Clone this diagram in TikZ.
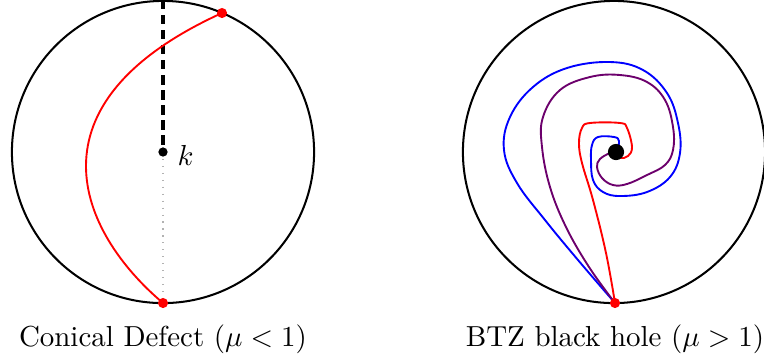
\documentclass[tikz,border=0pt]{standalone}
\begin{document}
\begin{tikzpicture}[x=0.3455pt,y=-0.3455pt,
  bdry/.style={line width=0.7pt},
  geo/.style={line width=0.65pt, line join=round, line cap=round},
  reddot/.style={circle, fill=red, inner sep=0pt, minimum size=3.5pt},
  blackdot/.style={circle, fill=black, inner sep=0pt, minimum size=3.2pt},
  hole/.style={circle, fill=black, inner sep=0pt, minimum size=5.6pt},
  caption/.style={font=\normalsize}]
\useasboundingbox (0,0) rectangle (764,362);
% ---------- left: conical defect ----------
\coordinate (cL) at (163,152);
\draw[bdry] (cL) circle (52.2pt);
\coordinate (topL) at (163,0);
\coordinate (botL) at (163,303);
\coordinate (redtop) at (222,13);
\draw[gray!60, dotted, line width=0.4pt] (cL) -- (botL);
\draw[line width=1.1pt, dash pattern=on 3.2pt off 2pt] (topL) -- (cL);
\draw[red, geo] (redtop) .. controls (22,104) and (79,232) .. (botL);
\node[blackdot] (k) at (cL) {};
\node[anchor=west, inner sep=0pt] (klab) at (177,155) {$k$};
\node[reddot] (rt) at (redtop) {};
\node[reddot] (rb) at (botL) {};
\node[caption] (capL) at (163,339) {Conical Defect ($\mu<1$)};
% ---------- right: BTZ ----------
\coordinate (cR) at (614,152);
\draw[bdry] (cR) circle (52.2pt);
\coordinate (botR) at (615,303);
\draw[blue, geo] plot[smooth, tension=0.65] coordinates {(615,303) (578,260) (545,220) (517,183) (504,150) (510,117) (533,87) (567,68) (610,62) (643,70) (667,93) (678,123) (680,153) (670,177) (647,192) (620,196) (603,192) (593,180) (591,160) (592,145) (598,137) (614,137) (619,141) (617,152)};
\draw[violet!85!black, geo] plot[smooth, tension=0.65] coordinates {(615,303) (589,267) (566,227) (550,187) (542,147) (543,117) (560,90) (590,77) (620,75) (647,82) (665,100) (673,127) (673,150) (665,165) (647,175) (627,184) (613,185) (602,178) (597,167) (600,159) (610,153) (616,152)};
\draw[red, geo] plot[smooth, tension=0.65] coordinates {(615,303) (606,253) (593,200) (582,163) (579,143) (582,128) (590,123) (620,123) (627,128) (632,147) (628,156) (620,158) (616,152)};
\node[hole] (bh) at (616,152) {};
\node[reddot] (rbR) at (botR) {};
\node[caption] (capR) at (615,339) {BTZ black hole ($\mu>1$)};
\end{tikzpicture}
\end{document}
